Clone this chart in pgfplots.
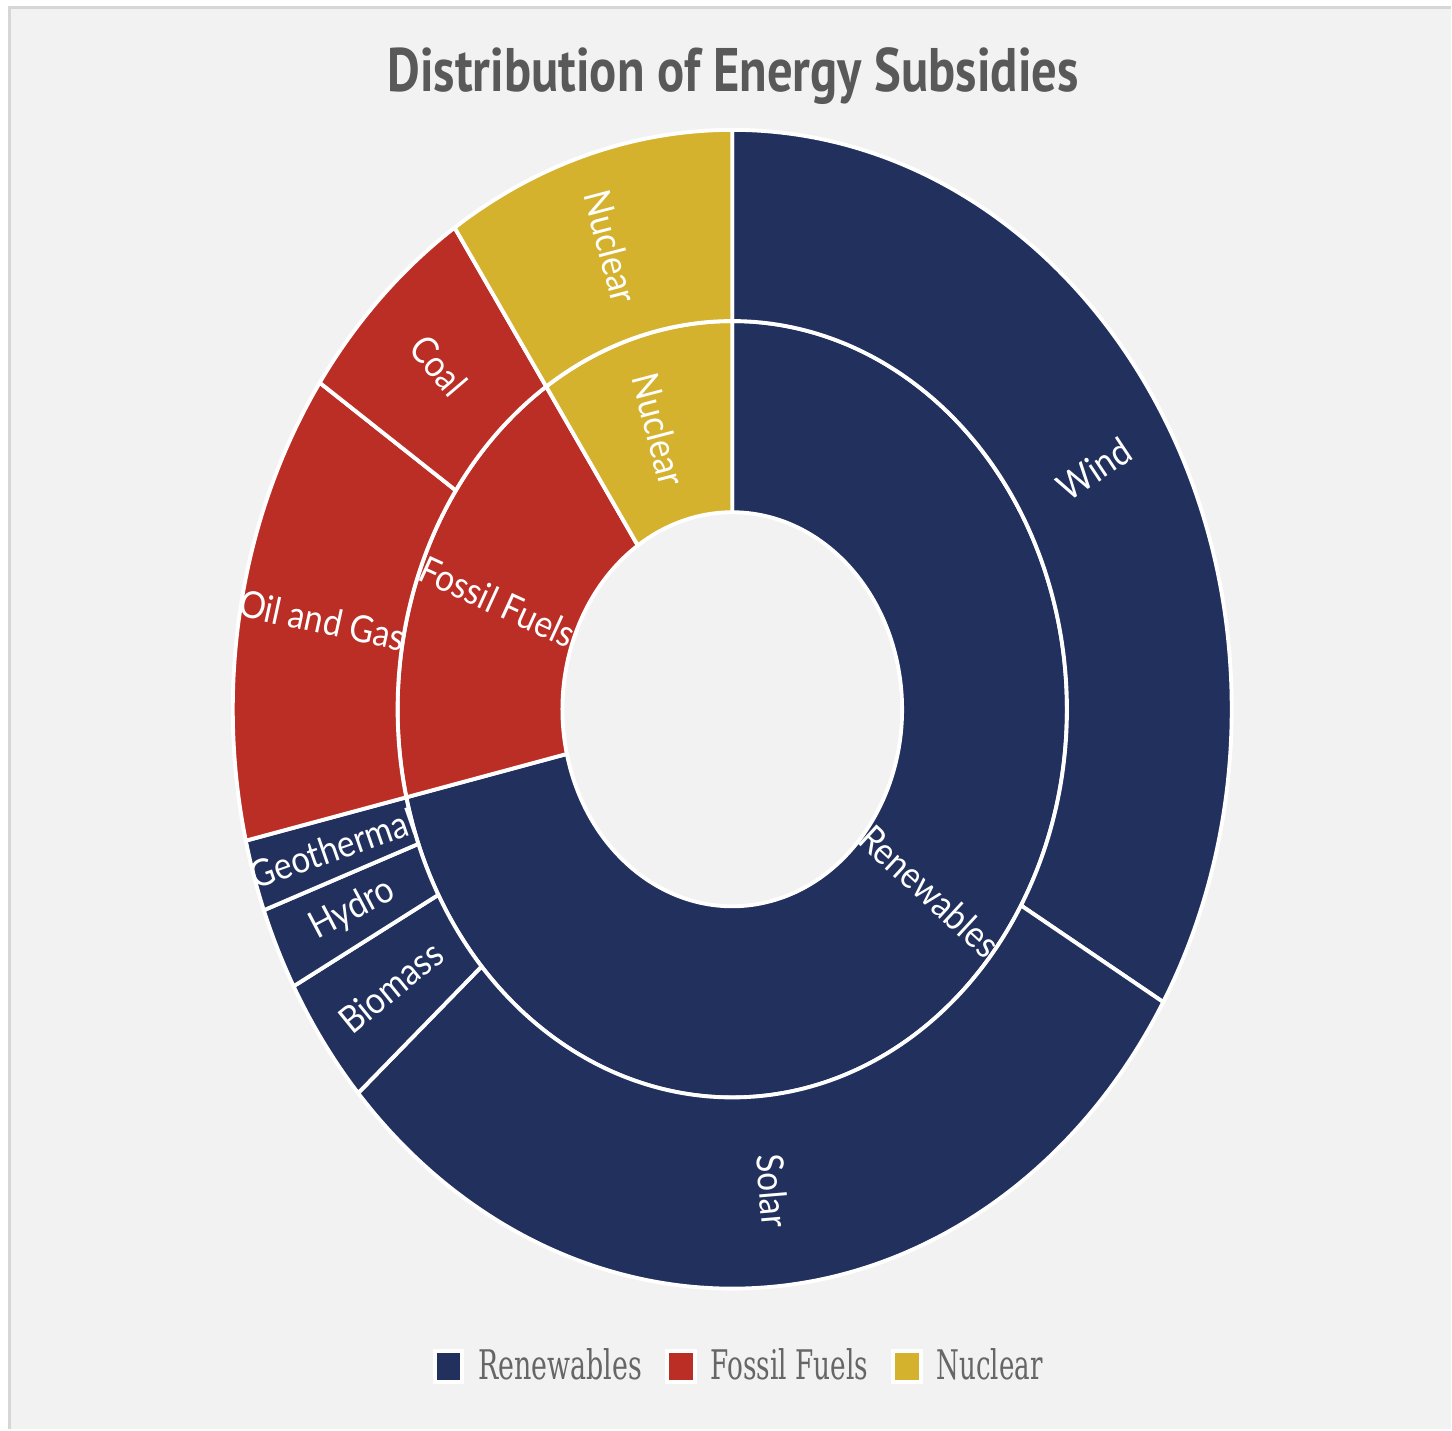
\documentclass[border=0pt]{standalone}
\usepackage{pgfplots}
\pgfplotsset{compat=1.18}
\usepackage{pgfplotstable}
\usepackage{graphicx}
\usepackage{fontspec}
\newfontfamily\labelfont{Lato}
\newfontfamily\titlefont{PT Sans}
\newfontfamily\legendfont{DejaVu Serif}

\definecolor{ren}{RGB}{34,48,94}
\definecolor{fos}{RGB}{186,46,37}
\definecolor{nuc}{RGB}{213,178,46}
\definecolor{panel}{RGB}{242,242,242}
\definecolor{frame}{RGB}{214,214,214}
\definecolor{titlegray}{RGB}{89,89,89}
\definecolor{leggray}{RGB}{102,102,102}

% inner ring (categories) and outer ring (subcategories), values in percent
\pgfplotstableread[col sep=comma]{
name,value,color
Renewables,71.5,ren
Fossil Fuels,19.3,fos
Nuclear,9.4,nuc
}\innertab
\pgfplotstableread[col sep=comma]{
name,value,color
Wind,33.5,ren
Solar,30.1,ren
Biomass,3.6,ren
Hydro,2.3,ren
Geothermal,2.0,ren
Oil and Gas,13.2,fos
Coal,6.1,fos
Nuclear,9.4,nuc
}\outertab

\def\ystretch{1.16}
% #1 table, #2 inner radius, #3 outer radius, #4 mode (0 sectors, 1 labels)
\newcommand\ring[4]{%
  \pgfplotstablegetrowsof{#1}%
  \pgfmathtruncatemacro\nrows{\pgfplotsretval-1}%
  \def\total{0}%
  \pgfplotsforeachungrouped \i in {0,...,\nrows}{%
    \pgfplotstablegetelem{\i}{value}\of{#1}%
    \pgfmathsetmacro\total{\total+\pgfplotsretval}}%
  \def\cum{0}%
  \pgfplotsforeachungrouped \i in {0,...,\nrows}{%
    \pgfplotstablegetelem{\i}{value}\of{#1}\let\val\pgfplotsretval
    \pgfplotstablegetelem{\i}{color}\of{#1}\let\col\pgfplotsretval
    \pgfplotstablegetelem{\i}{name}\of{#1}\let\nam\pgfplotsretval
    \pgfmathsetmacro\sa{90-(\cum/\total)*360}%
    \pgfmathsetmacro\cum{\cum+\val}%
    \pgfmathsetmacro\ea{90-(\cum/\total)*360}%
    \ifnum#4=0
      \pgfmathsetmacro\rix{#2}\pgfmathsetmacro\riy{\ystretch*#2}%
      \pgfmathsetmacro\rox{#3}\pgfmathsetmacro\roy{\ystretch*#3}%
      \fill[\col, draw=white, line width=1.1pt, line join=round]
        (axis cs:{#2*cos(\sa)},{#2*sin(\sa)}) -- (axis cs:{#3*cos(\sa)},{#3*sin(\sa)})
        arc[start angle=\sa, end angle=\ea, x radius=\rox cm, y radius=\roy cm]
        -- (axis cs:{#2*cos(\ea)},{#2*sin(\ea)})
        arc[start angle=\ea, end angle=\sa, x radius=\rix cm, y radius=\riy cm] -- cycle;
    \else
      \pgfmathsetmacro\ma{(\sa+\ea)/2}%
      \pgfmathsetmacro\rmid{(#2+#3)/2}%
      \pgfmathsetmacro\vx{cos(\ma)}%
      \pgfmathsetmacro\vy{\ystretch*sin(\ma)}%
      \pgfmathsetmacro\lang{atan2(\vy,\vx)}%
      \pgfmathsetmacro\rot{\vx<0 ? (\lang<0 ? \lang+180 : \lang-180) : \lang}%
      \node[text=white, font=\labelfont\fontsize{9.5}{11}\selectfont, rotate=\rot, inner sep=0pt]
        at (axis cs:{\rmid*cos(\ma)},{\rmid*sin(\ma)}) {\scalebox{1}[1.12]{\nam}};
    \fi
  }}

\pgfplotsset{
  sqlegend/.style={legend image code/.code={%
    \fill[white] (0cm,-0.17cm) rectangle (0.30cm,0.17cm);
    \fill[#1] (0.04cm,-0.13cm) rectangle (0.26cm,0.13cm);
    \path (0.40cm,0);}}}

\begin{document}
\begin{tikzpicture}
\begin{axis}[
  x=1cm, y=1.16cm,
  xmin=-7.33, xmax=7.19, ymin=-6.2155, ymax=6.1207,
  hide axis, clip=false,
  legend columns=3,
  legend style={at={(0.510,0.044)}, anchor=center, draw=none, fill=none,
    /tikz/every even column/.append style={column sep=0.19cm},
    nodes={inner sep=0.04cm, text=leggray, font=\legendfont}},
  legend cell align=left,
]
\pgfplotsextra{
  \fill[white] (rel axis cs:0,0) rectangle (rel axis cs:1,1);
  \fill[panel] (axis cs:-7.25,-6.2155) rectangle (axis cs:7.19,6.069);
  \draw[frame, line width=0.03cm] (axis cs:-7.235,-6.2155) -- (axis cs:-7.235,6.056) -- (axis cs:7.19,6.056);
  \ring{\innertab}{1.70}{3.35}{0}
  \ring{\outertab}{3.35}{5.00}{0}
  \ring{\innertab}{1.70}{3.35}{1}
  \ring{\outertab}{3.35}{5.00}{1}
  \node[inner sep=0pt, text=titlegray] at (axis cs:0.01,5.46)
    {\resizebox*{6.92cm}{0.57cm}{\titlefont\bfseries Distribution of Energy Subsidies}};
}
\addlegendimage{sqlegend=ren}
\addlegendentry{\resizebox{1.64cm}{0.31cm}{Renewables}}
\addlegendimage{sqlegend=fos}
\addlegendentry{\resizebox{1.58cm}{0.31cm}{Fossil Fuels}}
\addlegendimage{sqlegend=nuc}
\addlegendentry{\resizebox{1.06cm}{0.31cm}{Nuclear}}
\end{axis}
\end{tikzpicture}
\end{document}
